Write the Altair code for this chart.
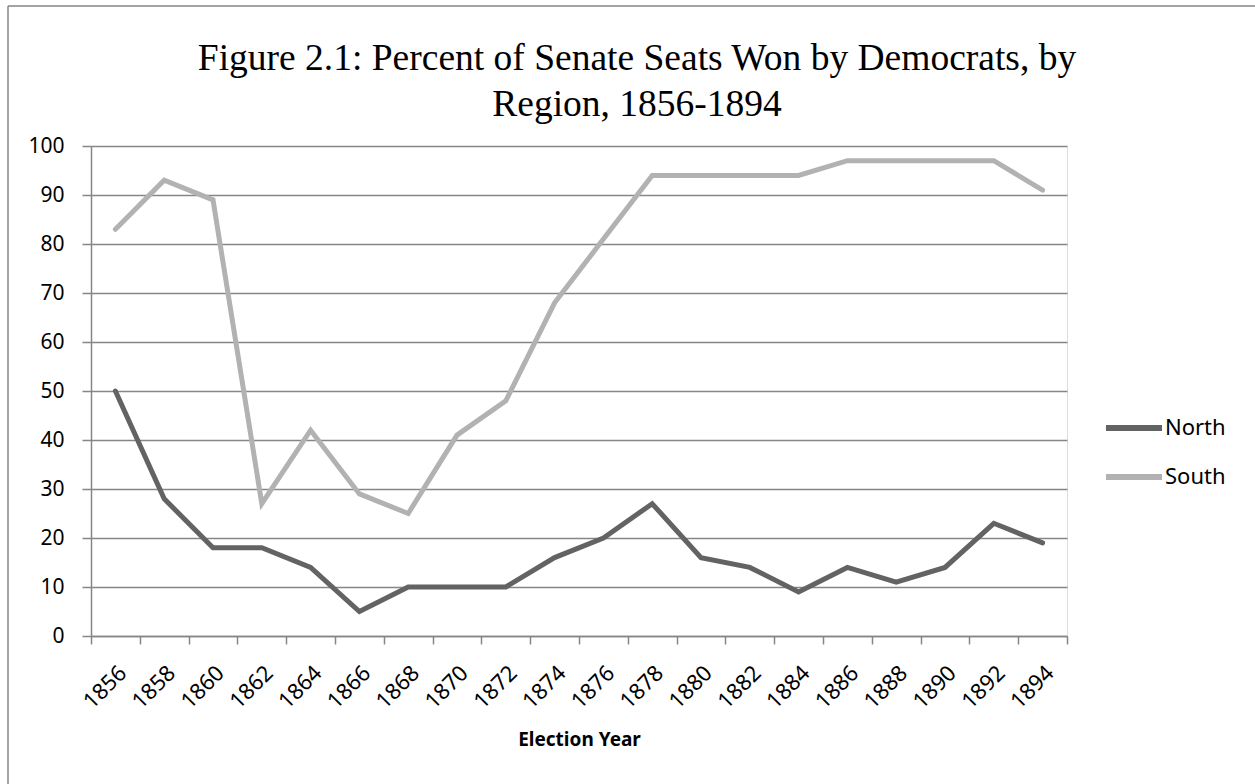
import altair as alt
import pandas as pd

years = [1856, 1858, 1860, 1862, 1864, 1866, 1868, 1870, 1872, 1874,
         1876, 1878, 1880, 1882, 1884, 1886, 1888, 1890, 1892, 1894]
north = [50, 28, 18, 18, 14, 5, 10, 10, 10, 16,
         20, 27, 16, 14, 9, 14, 11, 14, 23, 19]
south = [83, 93, 89, 27, 42, 29, 25, 41, 48, 68,
         81, 94, 94, 94, 94, 97, 97, 97, 97, 91]
series = ["North", "South"]
series_colors = ["#636363", "#b2b2b2"]
y_ticks = list(range(0, 101, 10))

df = pd.DataFrame({"Year": [str(y) for y in years], "North": north, "South": south})
long = df.melt(id_vars="Year", var_name="Region", value_name="Percent")

GRID = "#868686"
W, H = 976, 490
PAD_L, PAD_T = 91, 146

lines = alt.Chart(long).mark_line(strokeWidth=5, strokeCap="round", strokeJoin="miter").encode(
    x=alt.X("Year:O", sort=[str(y) for y in years],
            scale=alt.Scale(paddingInner=0, paddingOuter=0),
            axis=alt.Axis(title="Election Year", labelAngle=-45, tickBand="extent",
                          tickSize=8, tickColor=GRID, domainColor=GRID, domainWidth=1.5,
                          tickWidth=1.5, labelFont="Noto Sans", labelFontSize=22,
                          labelColor="black", labelPadding=18, grid=False,
                          titleFont="Noto Sans", titleFontSize=19, titleFontWeight="bold",
                          titleColor="black", titlePadding=18)),
    y=alt.Y("Percent:Q", scale=alt.Scale(domain=[0, 100], nice=False),
            axis=alt.Axis(title=None, values=y_ticks, tickSize=9, tickColor=GRID,
                          tickWidth=1.5, domainColor=GRID, domainWidth=1.5,
                          gridColor=GRID, gridWidth=1.5, labelFont="Noto Sans",
                          labelFontSize=21, labelColor="black", labelPadding=18)),
    color=alt.Color("Region:N", scale=alt.Scale(domain=series, range=series_colors),
                    legend=alt.Legend(title=None, orient="none", legendX=1012, legendY=251,
                                      symbolType="stroke", symbolSize=3136,
                                      symbolStrokeWidth=6, labelFont="Noto Sans",
                                      labelFontSize=22, labelColor="black",
                                      labelOffset=0, rowPadding=6)),
)

border_data = alt.Data(values=[{"k": 1}])
left_border = alt.Chart(border_data).mark_rule(color=GRID, strokeWidth=1.5).encode(
    x=alt.value(8 - PAD_L), y=alt.value(6 - PAD_T), y2=alt.value(900))
top_border = alt.Chart(border_data).mark_rule(color=GRID, strokeWidth=1.5).encode(
    y=alt.value(6 - PAD_T), x=alt.value(8 - PAD_L), x2=alt.value(1400))

chart = alt.layer(left_border, top_border, lines).properties(
    width=W, height=H,
    title=alt.TitleParams(
        text=["Figure 2.1: Percent of Senate Seats Won by Democrats, by",
              "Region, 1856-1894"],
        font="Liberation Serif", fontSize=37.5, fontWeight="normal", color="black",
        anchor="middle", baseline="bottom", dx=58, offset=0, dy=156, lineHeight=46),
    autosize=alt.AutoSizeParams(type="none"),
    padding={"left": PAD_L, "top": PAD_T, "right": 1255 - PAD_L - W, "bottom": 784 - PAD_T - H},
).configure_view(stroke=None).configure(background="white")

chart.save("out.html", embed_options={"renderer": "svg", "actions": False})
